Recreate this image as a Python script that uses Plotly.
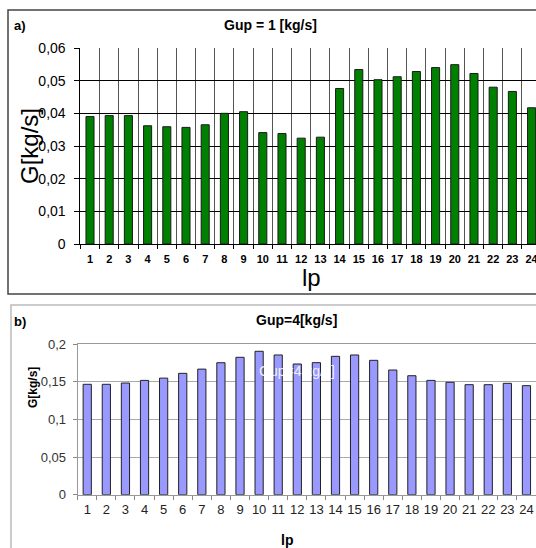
import plotly.graph_objects as go

lp = [str(i) for i in range(1, 25)]
g_up1 = [0.0390, 0.0393, 0.0393, 0.0362, 0.0359, 0.0357, 0.0365, 0.0400,
         0.0405, 0.0341, 0.0338, 0.0324, 0.0327, 0.0476, 0.0534, 0.0503,
         0.0512, 0.0528, 0.0540, 0.0549, 0.0522, 0.0480, 0.0467, 0.0417]
g_up4 = [0.1468, 0.1468, 0.1485, 0.1520, 0.1550, 0.1614, 0.1670, 0.1755,
         0.1827, 0.1907, 0.1858, 0.1738, 0.1756, 0.1840, 0.1858, 0.1787,
         0.1658, 0.1582, 0.1520, 0.1495, 0.1463, 0.1463, 0.1481, 0.1450]
ticks_a = [0, 0.01, 0.02, 0.03, 0.04, 0.05, 0.06]
ticktext_a = ["0", "0,01", "0,02", "0,03", "0,04", "0,05", "0,06"]
ticks_b = [0, 0.05, 0.1, 0.15, 0.2]
ticktext_b = ["0", "0,05", "0,1", "0,15", "0,2"]

W, H = 536, 548
FONT = "Liberation Sans, Arial, sans-serif"

def px(x):
    return x / W

def py(y):
    return 1 - y / H

fig = go.Figure()
fig.add_trace(go.Bar(x=lp, y=g_up1, xaxis="x", yaxis="y", width=0.42,
                     marker=dict(color="#008000", line=dict(color="#1a1a1a", width=1)),
                     showlegend=False))
fig.add_trace(go.Bar(x=lp, y=g_up4, xaxis="x2", yaxis="y2", width=0.43,
                     marker=dict(color="#9999ff", line=dict(color="#222222", width=1)),
                     showlegend=False))

fig.update_layout(
    width=W, height=H,
    margin=dict(l=0, r=0, t=0, b=0),
    paper_bgcolor="white", plot_bgcolor="white",
    font=dict(family=FONT, color="black"),
    xaxis=dict(domain=[px(80.4), 1.0], anchor="y", type="category",
               range=[-0.5, 23.23], tickson="boundaries", ticks="outside",
               ticklen=4, tickcolor="black", showgrid=True, gridcolor="#555555",
               gridwidth=1, showline=True, linecolor="black", linewidth=1,
               tickangle=0, automargin=False,
               tickfont=dict(size=11, family=FONT, color="black", weight="bold"),
               ticklabelstandoff=5),
    yaxis=dict(domain=[py(244), py(48)], anchor="x", range=[0, 0.06],
               tickvals=ticks_a, ticktext=ticktext_a, ticks="outside", ticklen=5,
               tickcolor="black", showgrid=True, gridcolor="black", gridwidth=1,
               showline=True, linecolor="black", linewidth=1, zeroline=False,
               automargin=False,
               tickfont=dict(size=14, family=FONT, color="black"),
               ticklabelstandoff=6),
    xaxis2=dict(domain=[px(77.7), 1.0], anchor="y2", type="category",
                range=[-0.5, 23.5], tickson="boundaries", ticks="outside",
                ticklen=4, tickcolor="#888888", showgrid=False,
                showline=True, linecolor="#999999", linewidth=1, mirror=True,
                tickangle=0, automargin=False,
                tickfont=dict(size=13, family=FONT, color="#222222"),
                ticklabelstandoff=3),
    yaxis2=dict(domain=[py(494.7), py(344.3)], anchor="x2", range=[0, 0.2],
                tickvals=ticks_b, ticktext=ticktext_b, ticks="outside", ticklen=4,
                tickcolor="#888888", showgrid=True, gridcolor="#aaaaaa", gridwidth=1,
                showline=True, linecolor="#999999", linewidth=1, mirror=True,
                zeroline=False, automargin=False,
                tickfont=dict(size=13, family=FONT, color="#333333"),
                ticklabelstandoff=4),
)

shapes = [
    dict(type="rect", xref="paper", yref="paper", x0=px(8), x1=1.05,
         y0=py(294), y1=py(10), line=dict(color="#444444", width=1.5),
         fillcolor="rgba(0,0,0,0)", layer="below"),
    dict(type="rect", xref="paper", yref="paper", x0=px(11), x1=1.05,
         y0=-0.05, y1=py(305), line=dict(color="#bbbbbb", width=1.5),
         fillcolor="rgba(0,0,0,0)", layer="below"),
]
fig.update_layout(shapes=shapes)

ann = [
    dict(text="<b>a)</b>", x=px(12), y=py(25), xanchor="left", yanchor="middle",
         font=dict(size=13)),
    dict(text="<b>Gup = 1 [kg/s]</b>", x=px(270), y=py(25), xanchor="center",
         yanchor="middle", font=dict(size=14)),
    dict(text="G[kg/s]", x=px(29), y=py(146), textangle=-90, xanchor="center",
         yanchor="middle", font=dict(size=24)),
    dict(text="lp", x=px(311), y=py(277), xanchor="center", yanchor="middle",
         font=dict(size=24)),
    dict(text="<b>b)</b>", x=px(12), y=py(321), xanchor="left", yanchor="middle",
         font=dict(size=13)),
    dict(text="<b>Gup=4[kg/s]</b>", x=px(296), y=py(320), xanchor="center",
         yanchor="middle", font=dict(size=14)),
    dict(text="Gup=4[kg/s]", x=px(297), y=py(371), xanchor="center",
         yanchor="middle", font=dict(size=14, color="rgba(255,255,255,0.85)")),
    dict(text="<b>G[kg/s]</b>", x=px(33), y=py(388), textangle=-90, xanchor="center",
         yanchor="middle", font=dict(size=12)),
    dict(text="<b>lp</b>", x=px(287), y=py(540), xanchor="center", yanchor="middle",
         font=dict(size=14)),
]
for a in ann:
    a.update(xref="paper", yref="paper", showarrow=False)
fig.update_layout(annotations=ann)

fig.write_html("out.html",
               config={"displayModeBar": False, "staticPlot": True},
               post_script="document.body.style.margin='0';"
                           "document.body.style.overflow='hidden';")
